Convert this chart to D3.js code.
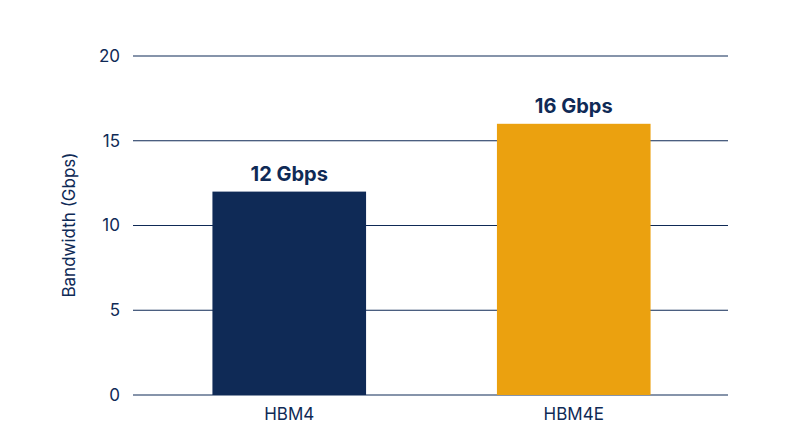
<!DOCTYPE html>
<html><head><meta charset="utf-8">
<script src="https://cdn.jsdelivr.net/npm/d3@7"></script>
<style>body{margin:0;background:#fff}</style></head>
<body><svg id="c" width="800" height="447"></svg>
<script>
const categories = ["HBM4", "HBM4E"];
const values = [12, 16];
const labels = ["12 Gbps", "16 Gbps"];
const colors = ["#0f2a56", "#eba10f"];
const yTicks = [0, 5, 10, 15, 20];

const svg = d3.select("#c");
const ink = "#0f2a56";
const font = "Inter, 'Noto Sans', sans-serif";
const y = d3.scaleLinear().domain([0, 20]).range([395, 56]);
const x = d3.scaleBand().domain(categories).range([147, 716]).paddingInner(0.46).paddingOuter(0.23);

svg.append("g").selectAll("line").data(yTicks).join("line")
  .attr("x1", 133).attr("x2", 728).attr("y1", d => y(d)).attr("y2", d => y(d))
  .attr("stroke", ink).attr("stroke-width", 1.2);
svg.append("g").selectAll("text").data(yTicks).join("text")
  .attr("x", 120).attr("y", d => y(d)).attr("dy", "0.35em").attr("text-anchor", "end")
  .attr("font-family", font).attr("font-size", 17).attr("fill", ink).text(d => d);

svg.append("g").selectAll("rect").data(values).join("rect")
  .attr("x", (d, i) => x(categories[i])).attr("width", x.bandwidth())
  .attr("y", d => y(d)).attr("height", d => y(0) - y(d)).attr("fill", (d, i) => colors[i]);

svg.append("g").selectAll("text").data(values).join("text")
  .attr("x", (d, i) => x(categories[i]) + x.bandwidth() / 2).attr("y", d => y(d) - 11)
  .attr("text-anchor", "middle").attr("font-family", font).attr("font-weight", 700)
  .attr("font-size", 20).attr("fill", ink).text((d, i) => labels[i]);

svg.append("g").selectAll("text").data(categories).join("text")
  .attr("x", d => x(d) + x.bandwidth() / 2).attr("y", 420).attr("text-anchor", "middle")
  .attr("font-family", font).attr("font-size", 17).attr("fill", ink).text(d => d);

svg.append("text").attr("transform", "translate(75,225) rotate(-90)").attr("text-anchor", "middle")
  .attr("font-family", font).attr("font-size", 17).attr("fill", ink).text("Bandwidth (Gbps)");
</script></body></html>
